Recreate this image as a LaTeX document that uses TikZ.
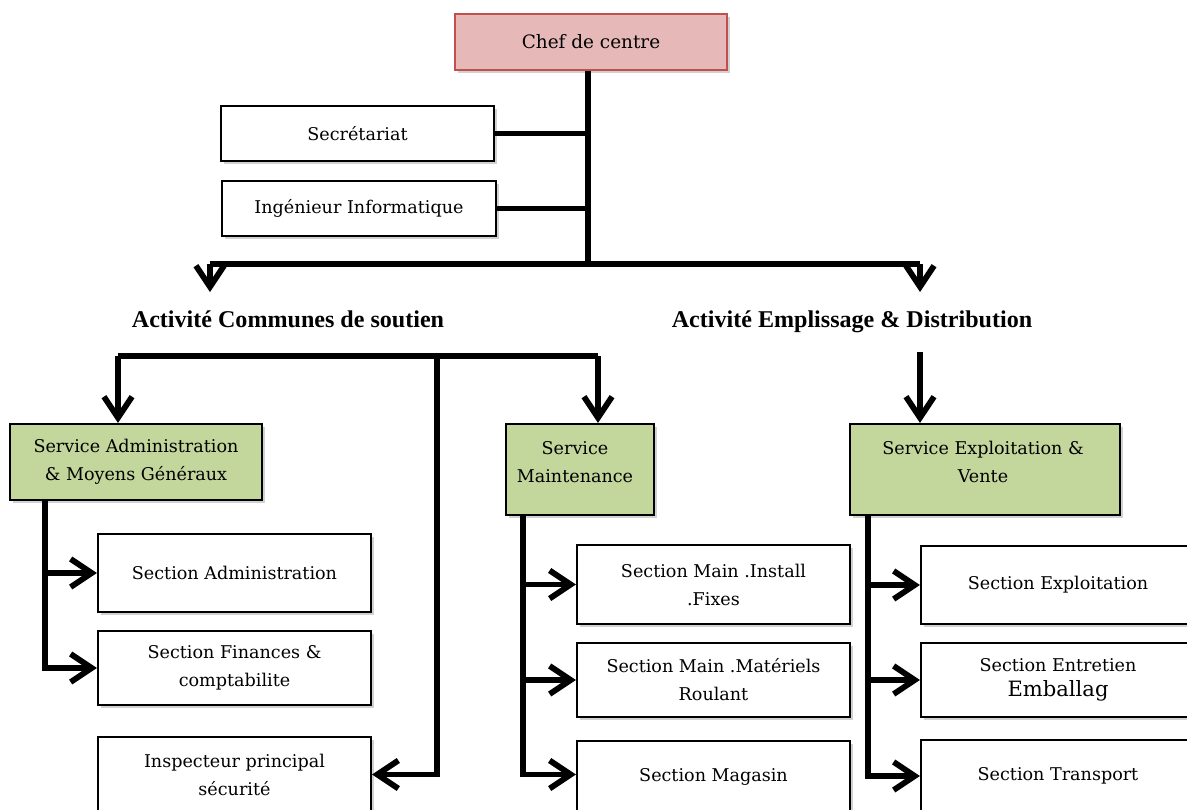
\documentclass[tikz,border=0pt]{standalone}
\usepackage{fontspec}
\setmainfont{DejaVu Serif}
\newfontfamily\headfont{Liberation Serif}
\usetikzlibrary{arrows.meta,shadows}
\definecolor{chefpink}{HTML}{E6B9B8}
\definecolor{chefred}{HTML}{C0504D}
\definecolor{svcgreen}{HTML}{C3D69B}
\newdimen\pxu \pxu=0.02cm
\begin{document}
\begin{tikzpicture}[x=0.02cm,y=-0.02cm,
  box/.style={draw=black, line width=1.2pt, fill=white, inner sep=0pt,
    align=center, font=\fontsize{10}{16}\selectfont,
    drop shadow={shadow xshift=1.6pt, shadow yshift=-1.6pt, opacity=0.3, fill=black!60}},
  chefbox/.style={box, fill=chefpink, draw=chefred},
  svc/.style={box, fill=svcgreen},
  txt/.style={align=center, inner sep=0pt, font=\fontsize{10}{16}\selectfont},
  head/.style={inner sep=0pt, anchor=base, font=\headfont\bfseries\fontsize{13.7}{16}\selectfont},
  conn/.style={line width=3.3pt, black, line join=miter},
  arr/.style={conn, -{Straight Barb[length=12pt,width=16pt]}}]
\useasboundingbox (0,0) rectangle (1187,809);
\clip (0,0) rectangle (1187,809);

% top level
\node[chefbox, minimum width=272\pxu, minimum height=56\pxu] (chef) at (591,42)
  {\fontsize{10.5}{14}\selectfont Chef de centre};
\node[box, minimum width=273\pxu, minimum height=55\pxu] (sec) at (357.5,133.5) {Secrétariat};
\node[box, minimum width=274\pxu, minimum height=55\pxu] (ing) at (359,208.5) {Ingénieur Informatique};

% activity headings
\node[head] (actA) at (288,327) {Activité Communes de soutien};
\node[head] (actB) at (852,327) {Activité Emplissage \& Distribution};

% services
\node[svc, minimum width=252\pxu, minimum height=76\pxu] (sadm) at (136,462)
  {Service Administration\\\& Moyens Généraux};
\node[svc, minimum width=148\pxu, minimum height=91\pxu] (smaint) at (580,469.5) {};
\node[txt] (smaint-t) at (575,462) {Service\\Maintenance};
\node[svc, minimum width=270\pxu, minimum height=91\pxu] (sexp) at (985,469.5) {};
\node[txt] (sexp-t) at (983,462) {Service Exploitation \&\\Vente};

% sections, left column
\node[box, minimum width=273\pxu, minimum height=78\pxu] (secAdm) at (234.5,573) {Section Administration};
\node[box, minimum width=273\pxu, minimum height=74\pxu] (secFin) at (234.5,668) {Section Finances \&\\comptabilite};
\node[box, minimum width=273\pxu, minimum height=75\pxu] (insp) at (234.5,774.5) {Inspecteur principal\\sécurité};

% sections, middle column
\node[box, minimum width=273\pxu, minimum height=79\pxu] (secInst) at (713.5,584.5) {Section Main .Install\\.Fixes};
\node[box, minimum width=273\pxu, minimum height=74\pxu] (secMat) at (713.5,680) {Section Main .Matériels\\Roulant};
\node[box, minimum width=273\pxu, minimum height=71\pxu] (secMag) at (713.5,776.5) {Section Magasin};

% sections, right column
\node[box, minimum width=274\pxu, minimum height=78\pxu] (secExp) at (1058,585) {Section Exploitation};
\node[box, minimum width=274\pxu, minimum height=74\pxu] (secEnt) at (1058,680)
  {Section Entretien\\[-2pt]{\fontsize{12}{14}\selectfont Emballag}};
\node[box, minimum width=274\pxu, minimum height=72\pxu] (secTra) at (1058,776) {Section Transport};

% trunk from the head of the centre
\coordinate (trunk) at (588,264);
\coordinate (bl) at (210,264);
\coordinate (br) at (920,264);
\draw[conn] (chef.south -| trunk) -- (trunk);
\draw[conn] (sec.east) -- (sec.east -| trunk);
\draw[conn] (ing.east) -- (ing.east -| trunk);
\draw[conn] (bl) -- (br);
\draw[arr] (bl) -- (210,292);
\draw[arr] (br) -- (920,292);

% common support activities
\coordinate (la) at (118,356);
\coordinate (ra) at (598,356);
\coordinate (mid) at (437,356);
\draw[conn] (la) -- (ra);
\draw[arr] (la) -- (la |- sadm.north);
\draw[arr] (ra) -- (ra |- smaint.north);
\draw[arr] (mid) |- (insp.east);

% filling and distribution
\coordinate (rtop) at (920,352);
\draw[arr] (rtop) -- (rtop |- sexp.north);

% administration branch
\coordinate (spA) at (45,500);
\draw[arr] (spA) |- (secFin.west);
\draw[arr] (secAdm.west -| spA) -- (secAdm.west);

% maintenance branch
\coordinate (spM) at (523,515);
\draw[arr] (spM) |- (secMag.west |- insp.east);
\draw[arr] (secInst.west -| spM) -- (secInst.west);
\draw[arr] (secMat.west -| spM) -- (secMat.west);

% exploitation branch
\coordinate (spE) at (868,515);
\draw[arr] (spE) |- (secTra.west);
\draw[arr] (secExp.west -| spE) -- (secExp.west);
\draw[arr] (secEnt.west -| spE) -- (secEnt.west);
\end{tikzpicture}
\end{document}
